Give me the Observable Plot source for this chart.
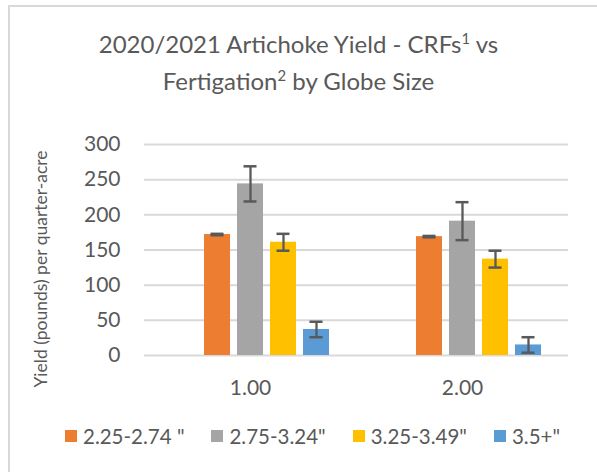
<!DOCTYPE html>
<html>
<head>
<meta charset="utf-8">
<script src="https://cdn.jsdelivr.net/npm/d3@7"></script>
<script src="https://cdn.jsdelivr.net/npm/@observablehq/plot@0.6"></script>
<style>
  html, body { margin: 0; padding: 0; background: #fff; }
  #wrap { position: relative; width: 597px; height: 472px; overflow: hidden; font-family: Lato, "Open Sans", sans-serif; color: #595959; }
  #frame { position: absolute; left: 8px; top: 5px; width: 620px; height: 500px; border: 2px solid #d9d9d9; box-sizing: border-box; }
  .title { position: absolute; left: 0; width: 597px; text-align: center; font-size: 24px; line-height: 37.5px; white-space: nowrap; }
  .title sup { font-size: 62%; line-height: 0; vertical-align: 0.6em; }
  #ylabel { position: absolute; left: 40px; top: 269px; transform: translate(-50%, -50%) rotate(-90deg); font-size: 17.5px; line-height: 21px; white-space: nowrap; }
  #chart { position: absolute; left: 0; top: 110px; }
  #legend { position: absolute; left: 65px; top: 423px; display: flex; align-items: center; gap: 27px; font-size: 20.5px; line-height: 26px; white-space: nowrap; }
  .item { display: flex; align-items: center; }
  .sw { width: 12px; height: 12px; margin-right: 6px; }
</style>
</head>
<body>
<div id="wrap">
  <div id="frame"></div>
  <div class="title" style="top:24.5px">2020/2021 Artichoke Yield - CRFs<sup>1</sup> vs</div>
  <div class="title" style="top:62px">Fertigation<sup>2</sup> by Globe Size</div>
  <div id="ylabel">Yield (pounds) per quarter-acre</div>
  <div id="chart"></div>
  <div id="legend"></div>
</div>
<script>
// ---- data ----
const groups = ["1.00", "2.00"];
const sizes = ['2.25-2.74 "', '2.75-3.24"', '3.25-3.49"', '3.5+"'];
const sizeColors = ["#ED7D31", "#A5A5A5", "#FFC000", "#5B9BD5"];
const yieldGroup1 = [172, 244, 161, 37];
const yieldGroup2 = [169, 191, 137, 15];
const errorGroup1 = [1, 25, 12, 11];
const errorGroup2 = [1, 27, 12, 11];
const yTicks = [0, 50, 100, 150, 200, 250, 300];
const emptySlot = " "; // Excel's empty leading series slot

const rows = [];
sizes.forEach((s, i) => {
  rows.push({group: groups[0], size: s, value: yieldGroup1[i], err: errorGroup1[i]});
  rows.push({group: groups[1], size: s, value: yieldGroup2[i], err: errorGroup2[i]});
});

const ink = "#595959";
const chart = Plot.plot({
  width: 597,
  height: 300,
  marginLeft: 143,
  marginRight: 29,
  marginTop: 34,
  marginBottom: 55,
  style: {fontFamily: "Lato, 'Open Sans', sans-serif", fontSize: "21px", color: ink, background: "transparent", overflow: "visible"},
  fx: {domain: groups, padding: 0, label: null, tickSize: 0, tickPadding: 25},
  x: {domain: [emptySlot, ...sizes], paddingInner: 0.22, paddingOuter: 0.75, axis: null},
  y: {domain: [0, 300], ticks: yTicks, tickSize: 0, tickPadding: 24, label: null},
  color: {domain: sizes, range: sizeColors},
  marks: [
    Plot.gridY(yTicks, {stroke: "#d9d9d9", strokeOpacity: 1, strokeWidth: 2}),
    Plot.barY(rows, {fx: "group", x: "size", y: "value", fill: "size"}),
    Plot.ruleX(rows, {fx: "group", x: "size", y1: d => d.value - d.err, y2: d => d.value + d.err, stroke: ink, strokeWidth: 2.3}),
    Plot.tickY(rows, {fx: "group", x: "size", y: d => d.value + d.err, stroke: ink, strokeWidth: 2.5, insetLeft: 6.5, insetRight: 6.5}),
    Plot.tickY(rows, {fx: "group", x: "size", y: d => d.value - d.err, stroke: ink, strokeWidth: 2.5, insetLeft: 6.5, insetRight: 6.5})
  ]
});
document.getElementById("chart").appendChild(chart);

const legend = document.getElementById("legend");
sizes.forEach((s, i) => {
  const item = document.createElement("div");
  item.className = "item";
  const sw = document.createElement("span");
  sw.className = "sw";
  sw.style.background = sizeColors[i];
  const t = document.createElement("span");
  t.textContent = s;
  item.appendChild(sw);
  item.appendChild(t);
  legend.appendChild(item);
});
</script>
</body>
</html>
